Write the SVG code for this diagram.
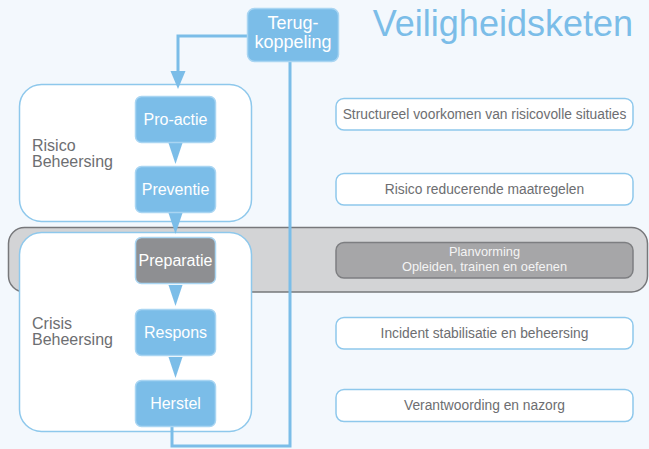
<svg xmlns="http://www.w3.org/2000/svg" width="649" height="449" viewBox="0 0 649 449">
<style>
.bg{fill:#f3f8fd}
.group{fill:#ffffff;stroke:#8ec8ec;stroke-width:1.5}
.node{fill:#7bbde8;stroke:#a9d5f2;stroke-width:1.5}
.node.gray{fill:#8e8f92}
.ntxt{font-family:"Liberation Sans",sans-serif;font-size:16px;fill:#ffffff;text-anchor:middle}
.gtxt{font-family:"Liberation Sans",sans-serif;font-size:16px;fill:#6d6e71}
.desc{fill:#ffffff;stroke:#8ec8ec;stroke-width:1.5}
.dtxt{font-family:"Liberation Sans",sans-serif;font-size:13.8px;fill:#6d6e71;text-anchor:middle}
.ptxt{font-family:"Liberation Sans",sans-serif;font-size:12.8px;fill:#f4f4f4;text-anchor:middle}
.line{fill:none;stroke:#7bbde8;stroke-width:3}
.head{fill:#7bbde8}
</style>
<rect class="bg" x="0" y="0" width="649" height="449"/>
<text x="633" y="36" text-anchor="end" font-family="Liberation Sans,sans-serif" font-size="36" fill="#7bbde8">Veiligheidsketen</text>

<g id="band">
<rect x="8.5" y="227.5" width="639" height="64.5" rx="16" fill="#d3d4d6" stroke="#77787b" stroke-width="1.5"/>
</g>

<g id="risico-beheersing">
<rect class="group" x="19.5" y="84.5" width="232" height="137" rx="22"/>
<text class="gtxt" x="32" y="151">Risico</text>
<text class="gtxt" x="32" y="167">Beheersing</text>
</g>
<g id="crisis-beheersing">
<rect class="group" x="19.5" y="232.5" width="232" height="199" rx="22"/>
<text class="gtxt" x="32" y="329">Crisis</text>
<text class="gtxt" x="32" y="345">Beheersing</text>
</g>

<g id="connectors">
<path class="line" d="M247,36 H178 V72"/>
<polygon class="head" points="170.5,71 185.5,71 178,89"/>
<path class="line" d="M172,427 V446 H290 V62"/>
<polygon class="head" points="168.5,143 182.5,143 175.5,164"/>
<polygon class="head" points="168.5,213 182.5,213 175.5,234"/>
<polygon class="head" points="168.5,285 182.5,285 175.5,306"/>
<polygon class="head" points="168.5,357 182.5,357 175.5,378"/>
</g>

<g id="terugkoppeling">
<rect class="node" x="247.5" y="8.5" width="91" height="53" rx="7"/>
<text class="ntxt" x="293" y="29" style="font-size:18px">Terug-</text>
<text class="ntxt" x="293" y="48" style="font-size:18px">koppeling</text>
</g>
<g id="pro-actie">
<rect class="node" x="135.5" y="96.5" width="80" height="46" rx="6"/>
<text class="ntxt" x="175.5" y="125">Pro-actie</text>
</g>
<g id="preventie">
<rect class="node" x="135.5" y="166.5" width="80" height="46" rx="6"/>
<text class="ntxt" x="175.5" y="195">Preventie</text>
</g>
<g id="preparatie">
<rect class="node gray" x="135.5" y="237.5" width="80" height="46" rx="6"/>
<text class="ntxt" x="175.5" y="266">Preparatie</text>
</g>
<g id="respons">
<rect class="node" x="135.5" y="309.5" width="80" height="46" rx="6"/>
<text class="ntxt" x="175.5" y="338">Respons</text>
</g>
<g id="herstel">
<rect class="node" x="135.5" y="380.5" width="80" height="46" rx="6"/>
<text class="ntxt" x="175.5" y="409">Herstel</text>
</g>

<g id="desc-1">
<rect class="desc" x="336" y="98.5" width="297" height="31.5" rx="8"/>
<text class="dtxt" x="484.5" y="119">Structureel voorkomen van risicovolle situaties</text>
</g>
<g id="desc-2">
<rect class="desc" x="336" y="173.5" width="297" height="31.5" rx="8"/>
<text class="dtxt" x="484.5" y="194">Risico reducerende maatregelen</text>
</g>
<g id="desc-3">
<rect x="336" y="242.5" width="297" height="35.5" rx="8" fill="#a6a6a8" stroke="#7d7e81" stroke-width="1.5"/>
<text class="ptxt" x="484.5" y="256">Planvorming</text>
<text class="ptxt" x="484.5" y="270.5">Opleiden, trainen en oefenen</text>
</g>
<g id="desc-4">
<rect class="desc" x="336" y="317.5" width="297" height="31.5" rx="8"/>
<text class="dtxt" x="484.5" y="338">Incident stabilisatie en beheersing</text>
</g>
<g id="desc-5">
<rect class="desc" x="336" y="389.5" width="297" height="32" rx="8"/>
<text class="dtxt" x="484.5" y="410">Verantwoording en nazorg</text>
</g>
</svg>
